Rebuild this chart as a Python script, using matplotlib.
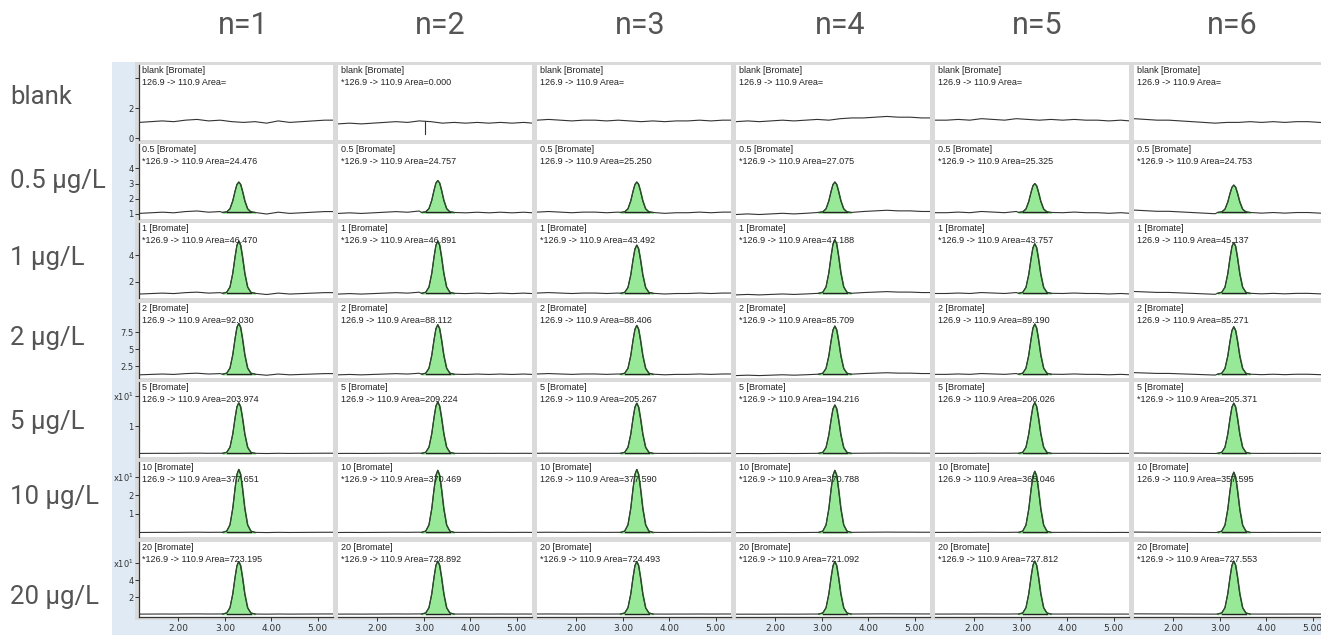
import matplotlib
matplotlib.use("Agg")
import matplotlib.pyplot as plt
from matplotlib.patches import Rectangle

# ---------------- data ----------------
col_headers = ["n=1", "n=2", "n=3", "n=4", "n=5", "n=6"]
row_labels = ["blank", "0.5 \u03bcg/L", "1 \u03bcg/L", "2 \u03bcg/L", "5 \u03bcg/L", "10 \u03bcg/L", "20 \u03bcg/L"]
row_names = ["blank", "0.5", "1", "2", "5", "10", "20"]

areas = [
    ["", "0.000", "", "", "", ""],
    ["24.476", "24.757", "25.250", "27.075", "25.325", "24.753"],
    ["46.470", "46.891", "43.492", "47.188", "43.757", "45.137"],
    ["92.030", "88.112", "88.406", "85.709", "89.190", "85.271"],
    ["203.974", "209.224", "205.267", "194.216", "206.026", "205.371"],
    ["377.651", "370.469", "377.590", "370.788", "365.046", "357.595"],
    ["723.195", "728.892", "724.493", "721.092", "727.812", "727.553"],
]
starred = [
    [0, 1, 0, 0, 0, 0],
    [1, 1, 0, 1, 1, 1],
    [1, 1, 1, 1, 1, 0],
    [0, 0, 0, 1, 0, 0],
    [0, 0, 0, 1, 0, 1],
    [0, 1, 0, 1, 0, 0],
    [1, 1, 1, 1, 1, 1],
]

# peak apex heights above baseline (y-axis units of each row)
peak_heights = [
    [0, 0, 0, 0, 0, 0],
    [2.0, 2.1, 2.0, 2.0, 1.9, 1.8],
    [3.9, 3.9, 3.6, 4.0, 3.7, 3.8],
    [7.5, 7.3, 7.2, 7.1, 7.4, 7.0],
    [1.65, 1.68, 1.64, 1.58, 1.66, 1.64],
    [3.4, 3.35, 3.4, 3.35, 3.3, 3.25],
    [6.2, 6.25, 6.2, 6.2, 6.25, 6.25],
]
retention = [3.30, 3.30, 3.30, 3.28, 3.30, 3.30]

# baseline level and noise scale per row
row_base = [0.0, 1.1, 1.15, 1.3, 0.12, 0.0, 0.0]
row_noise = [1.0, 0.8, 0.7, 1.2, 0.05, 0.08, 0.12]

# baseline trace read from the blank row, per column
base_x = [1.15, 1.40, 1.65, 1.90, 2.15, 2.40, 2.65, 2.90, 3.15, 3.40, 3.65, 3.90, 4.15, 4.40, 4.65, 4.90, 5.15, 5.35]
blank_traces = [
    [1.05, 1.10, 1.15, 1.10, 1.20, 1.25, 1.15, 1.20, 1.10, 1.05, 1.10, 1.00, 1.15, 1.05, 1.10, 1.15, 1.20, 1.20],
    [0.95, 1.00, 0.95, 1.00, 1.05, 1.10, 1.05, 1.15, 1.10, 1.00, 1.05, 1.00, 1.05, 1.00, 1.05, 1.00, 1.05, 1.00],
    [1.20, 1.25, 1.20, 1.15, 1.20, 1.20, 1.15, 1.20, 1.15, 1.10, 1.15, 1.10, 1.15, 1.15, 1.20, 1.15, 1.20, 1.20],
    [1.10, 1.15, 1.10, 1.15, 1.20, 1.15, 1.20, 1.25, 1.20, 1.30, 1.35, 1.35, 1.40, 1.45, 1.40, 1.40, 1.35, 1.35],
    [1.20, 1.20, 1.25, 1.20, 1.30, 1.25, 1.20, 1.30, 1.25, 1.20, 1.25, 1.20, 1.25, 1.20, 1.20, 1.15, 1.20, 1.15],
    [1.30, 1.25, 1.20, 1.20, 1.15, 1.10, 1.05, 1.00, 1.05, 1.05, 1.10, 1.05, 1.10, 1.05, 1.10, 1.10, 1.05, 1.00],
]
blank_spike = [None, (3.02, 0.25), None, None, None, None]

# normalised peak profile
peak_dx = [-0.35, -0.26, -0.19, -0.13, -0.08, -0.04, 0.0, 0.04, 0.08, 0.13, 0.19, 0.26, 0.35]
peak_shape = [0.0, 0.02, 0.12, 0.38, 0.70, 0.92, 1.0, 0.92, 0.70, 0.38, 0.12, 0.02, 0.0]

# axis settings per row
ylims = [(-0.13, 4.9), (0.67, 5.6), (0.8, 6.4), (0.74, 11.8), (0.0, 2.45), (-0.25, 3.8), (-0.35, 8.5)]
yticks = [[0, 2, 4], [1, 2, 3, 4], [2, 4], [2.5, 5, 7.5], [1, 2], [1, 2, 3], [2, 4, 6]]
yticklabels = [["0", "2", ""], ["1", "2", "3", "4"], ["2", "4"], ["2.5", "5", "7.5"],
               ["1", "x10$^{1}$"], ["1", "2", "x10$^{1}$"], ["2", "4", "x10$^{1}$"]]
xlim = (1.15, 5.33)
xticks = [2.0, 3.0, 4.0, 5.0]

# ---------------- layout (pixels) ----------------
W, H = 1321, 635
col_left = [139, 338, 537, 736, 935, 1134]
col_w = 194
row_top = [65, 144, 223, 303, 382, 462, 542]
row_h = 75
header_x = [243, 440, 640, 840, 1037, 1232]
label_y = [97, 181, 258, 338, 422, 497, 597]

fig = plt.figure(figsize=(W / 100, H / 100), dpi=100)
fig.patch.set_facecolor("white")

def fx(px):
    return px / W

def fy(py):
    return 1 - py / H

# background areas
fig.patches.append(Rectangle((fx(112), 0), 1 - fx(112), fy(62), transform=fig.transFigure,
                             facecolor="#dfeaf4", edgecolor="none", zorder=-2))
fig.patches.append(Rectangle((fx(135), fy(620)), 1 - fx(135), fy(62) - fy(620), transform=fig.transFigure,
                             facecolor="#dadada", edgecolor="none", zorder=-1))

text_color = "#555555"
for c, h in enumerate(col_headers):
    fig.text(fx(header_x[c]), fy(26), h, ha="center", va="center", fontsize=22,
             family="Roboto", color=text_color)
for r, lab in enumerate(row_labels):
    fig.text(fx(10), fy(label_y[r]), lab, ha="left", va="center", fontsize=18.5,
             family="Roboto", color=text_color)

green = "#97e897"
line_c = "#333333"

for r in range(7):
    for c in range(6):
        ax = fig.add_axes([fx(col_left[c]), fy(row_top[r] + row_h), col_w / W, row_h / H])
        ax.set_zorder(1)
        ax.set_facecolor("white")
        ax.set_xlim(*xlim)
        ax.set_ylim(*ylims[r])
        for s in ax.spines.values():
            s.set_visible(False)
        if c == 0:
            ax.spines["left"].set_visible(True)
            ax.spines["left"].set_color("#333333")
            ax.spines["left"].set_linewidth(0.9)
            ax.set_yticks(yticks[r])
            ax.set_yticklabels(yticklabels[r])
            ax.tick_params(axis="y", labelsize=6, length=3, width=0.7, pad=1, colors="#333333")
        else:
            ax.set_yticks([])
        if r == 6:
            ax.spines["bottom"].set_visible(True)
            ax.spines["bottom"].set_color("#333333")
            ax.spines["bottom"].set_linewidth(0.9)
            ax.set_xticks(xticks)
            ax.set_xticklabels(["%.2f" % t for t in xticks])
            ax.tick_params(axis="x", labelsize=6.5, length=3, width=0.7, pad=2, colors="#333333")
        else:
            ax.set_xticks([])

        # trace
        tr = blank_traces[c]
        mean = sum(tr) / len(tr)
        if r == 0:
            ax.plot(base_x, tr, color=line_c, lw=0.8)
            if blank_spike[c] is not None:
                sx, sy = blank_spike[c]
                ax.plot([sx, sx], [sy, 1.12], color=line_c, lw=0.8)
        else:
            rt = retention[c]
            base = row_base[r]
            pts = []
            for x, v in zip(base_x, tr):
                if abs(x - rt) > 0.38:
                    pts.append((x, base + (v - mean) * row_noise[r]))
            px = [rt + d for d in peak_dx]
            py = [base + peak_heights[r][c] * s for s in peak_shape]
            pts += list(zip(px, py))
            pts.sort()
            ax.plot([p[0] for p in pts], [p[1] for p in pts], color=line_c, lw=0.8, zorder=3)
            ax.fill_between(px, [base] * len(px), py, color=green, zorder=2)
            ax.plot(px, py, color="#2d4a2d", lw=0.9, zorder=4)
            ax.plot([px[1], px[-2]], [base, base], color="#222222", lw=1.0, zorder=4)

        # annotation text
        star = "*" if starred[r][c] else ""
        ax.text(0.015, 0.985, f"{row_names[r]} [Bromate]", transform=ax.transAxes, ha="left", va="top",
                fontsize=6.5, family="Liberation Sans", color="#222222")
        ax.text(0.015, 0.83, f"{star}126.9 -> 110.9 Area={areas[r][c]}", transform=ax.transAxes,
                ha="left", va="top", fontsize=6.5, family="Liberation Sans", color="#222222", zorder=5)

fig.savefig("out.png", dpi=100)
